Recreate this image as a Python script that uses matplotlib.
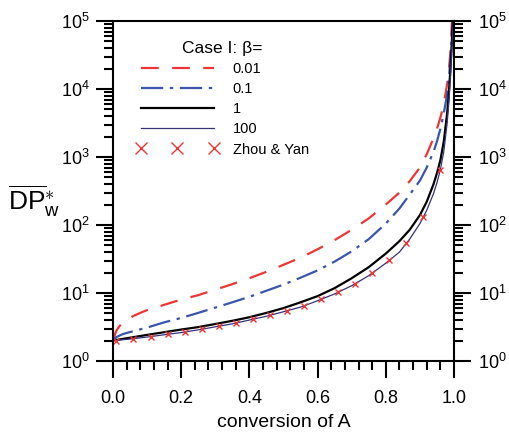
import numpy as np
import matplotlib
matplotlib.use("Agg")
import matplotlib.pyplot as plt
from matplotlib.ticker import MultipleLocator, LogLocator, NullFormatter, LogFormatterSciNotation

plt.rcParams['font.family'] = ['Liberation Sans', 'DejaVu Sans']
plt.rcParams['mathtext.fontset'] = 'custom'
plt.rcParams['mathtext.rm'] = 'Liberation Sans'
plt.rcParams['mathtext.it'] = 'Liberation Sans:italic'
plt.rcParams['mathtext.sf'] = 'Liberation Sans'

# beta = 0.01
x_b001 = [0, 0.005, 0.01, 0.02, 0.04, 0.06, 0.08, 0.1, 0.15, 0.2, 0.25, 0.3, 0.35,
          0.4, 0.45, 0.5, 0.55, 0.6, 0.65, 0.7, 0.75, 0.8, 0.84, 0.87, 0.9, 0.92,
          0.94, 0.95, 0.96, 0.97, 0.98, 0.985, 0.99, 0.994]
y_b001 = [2.0, 2.4, 2.8, 3.3, 4.0, 4.6, 5.1, 5.6, 6.7, 8.0, 9.3, 11.2, 13.5,
          16.5, 20.5, 26, 33, 44, 60, 85, 125, 200, 300, 440, 700, 1100,
          1900, 2600, 3800, 6000, 12000, 19000, 38000, 100000]

# beta = 0.1
x_b01 = [0, 0.01, 0.03, 0.06, 0.1, 0.15, 0.2, 0.25, 0.3, 0.35, 0.4, 0.45, 0.5,
         0.55, 0.6, 0.65, 0.7, 0.75, 0.8, 0.84, 0.87, 0.9, 0.92, 0.94, 0.95,
         0.96, 0.97, 0.98, 0.985, 0.99, 0.993, 0.996]
y_b01 = [2.0, 2.25, 2.5, 2.75, 3.1, 3.7, 4.3, 5.1, 6.1, 7.3, 8.8, 10.8, 13.3,
         16.8, 21.5, 29, 41, 62, 105, 175, 280, 450, 700, 1200, 1700,
         2600, 4400, 8500, 14000, 30000, 55000, 100000]

# beta = 1
x_b1 = [0, 0.05, 0.1, 0.15, 0.2, 0.25, 0.3, 0.35, 0.4, 0.45, 0.5, 0.55, 0.6,
        0.65, 0.7, 0.75, 0.8, 0.84, 0.87, 0.9, 0.92, 0.94, 0.95, 0.96, 0.97,
        0.98, 0.985, 0.99, 0.995, 0.997]
y_b1 = [2.0, 2.2, 2.42, 2.65, 2.9, 3.15, 3.5, 3.9, 4.4, 5.1, 6.0, 7.3, 9.0,
        11.8, 16.5, 24, 38, 58, 85, 140, 220, 400, 580, 900, 1700,
        4500, 9000, 22000, 70000, 100000]

# beta = 100
x_b100 = [0, 0.05, 0.1, 0.15, 0.2, 0.25, 0.3, 0.35, 0.4, 0.45, 0.5, 0.55, 0.6,
          0.65, 0.7, 0.75, 0.8, 0.84, 0.87, 0.9, 0.92, 0.94, 0.95, 0.96, 0.97,
          0.98, 0.985, 0.99, 0.995, 0.998]
y_b100 = [2.0, 2.1, 2.25, 2.43, 2.62, 2.87, 3.18, 3.52, 4.0, 4.55, 5.3, 6.2, 7.7,
          9.7, 12.8, 18, 27.5, 40, 62, 105, 165, 290, 420, 650, 1200,
          3200, 6500, 16000, 55000, 100000]

# Zhou & Yan
x_zy = [0.01, 0.06, 0.11, 0.16, 0.21, 0.26, 0.31, 0.36, 0.41, 0.46,
        0.51, 0.56, 0.61, 0.66, 0.71, 0.76, 0.81, 0.86, 0.91, 0.96]
y_zy = [1.99, 2.13, 2.28, 2.47, 2.64, 2.93, 3.27, 3.58, 4.10, 4.70,
        5.47, 6.44, 8.08, 10.2, 13.6, 19.5, 30.2, 54.3, 130, 645]

red = '#ee3535'
blue = '#3a55aa'
navy = '#34337a'

fig = plt.figure(figsize=(5.09, 4.33), dpi=100)
ax = fig.add_axes([0.222, 0.1663, 0.670, 0.7852])

ax.plot(x_b001, y_b001, color=red, lw=1.6, dashes=(8, 6), label='0.01')
ax.plot(x_b01, y_b01, color=blue, lw=1.6, dashes=(10, 3, 1.5, 3), label='0.1')
ax.plot(x_b1, y_b1, color='black', lw=1.6, label='1')
ax.plot(x_b100, y_b100, color=navy, lw=0.9, label='100')
ax.plot(x_zy, y_zy, ls='none', marker='x', ms=5, mew=1.0, color=red, label='Zhou & Yan')

ax.set_yscale('log')
ax.set_xlim(0, 1)
ax.set_ylim(1, 1e5)

ax.xaxis.set_major_locator(MultipleLocator(0.2))
ax.xaxis.set_minor_locator(MultipleLocator(0.04))
ax.xaxis.set_major_formatter(plt.FuncFormatter(lambda v, p: f'{v:.1f}'))
ax.yaxis.set_major_locator(LogLocator(base=10, numticks=10))
ax.yaxis.set_minor_locator(LogLocator(base=10, subs=np.arange(2, 10), numticks=20))
ax.yaxis.set_minor_formatter(NullFormatter())
ax.yaxis.set_major_formatter(LogFormatterSciNotation())

for s in ax.spines.values():
    s.set_linewidth(1.5)
ax.tick_params(which='both', direction='out', width=1.5, labelsize=13,
               left=True, right=True, top=False, bottom=True, labelright=True)
ax.tick_params(which='major', length=12, pad=5)
ax.tick_params(which='minor', length=6.5)
ax.tick_params(axis='x', which='major', pad=9)

ax.set_xlabel('conversion of A', fontsize=14, labelpad=5)
fig.text(0.015, 0.535, r'$\overline{\mathrm{DP}}_{\mathrm{w}}^{\ast}$', fontsize=19,
         ha='left', va='center')

leg = ax.legend(loc='upper left', bbox_to_anchor=(0.03, 0.98), frameon=False,
                title='Case I: \u03b2=', title_fontsize=12.5, fontsize=10.5,
                handlelength=5.6, handletextpad=1.0, labelspacing=0.42,
                numpoints=3, markerscale=1.7)

fig.savefig('out.png', dpi=100)
